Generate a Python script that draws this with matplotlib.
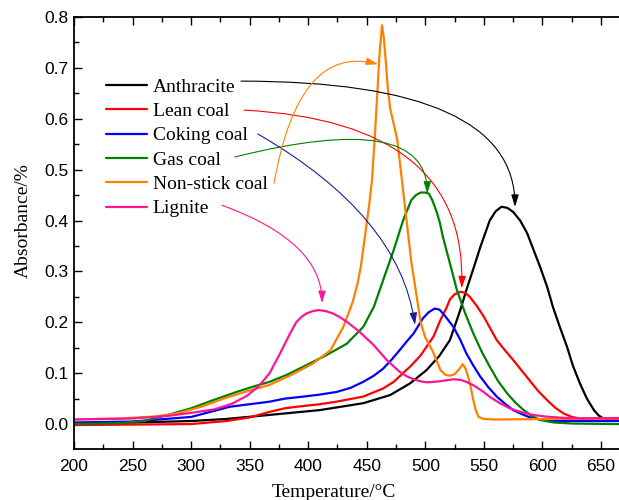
import matplotlib
matplotlib.use("Agg")
import matplotlib.pyplot as plt
from matplotlib.ticker import MultipleLocator, FormatStrFormatter

# ---------------- data ----------------
labels = ["Anthracite", "Lean coal", "Coking coal", "Gas coal", "Non-stick coal", "Lignite"]

anthracite_T = [200, 250, 300, 330, 367, 410, 447, 470, 487, 501, 512, 521, 524, 530, 535, 541, 547, 555, 560,
                565, 570, 575, 581, 587, 592, 598, 604, 609, 615, 621, 626, 632, 638, 644, 648, 652, 665]
anthracite_A = [0.002, 0.003, 0.006, 0.010, 0.018, 0.0275, 0.041, 0.057, 0.080, 0.106, 0.134, 0.165, 0.185,
                0.225, 0.263, 0.305, 0.348, 0.400, 0.418, 0.427, 0.425, 0.417, 0.400, 0.375, 0.345, 0.309, 0.270,
                0.230, 0.190, 0.152, 0.115, 0.080, 0.050, 0.0275, 0.017, 0.011, 0.011]

lean_T = [200, 250, 300, 330, 350, 367, 380, 390, 410, 424, 447, 464, 473, 481, 488, 496, 502, 507, 513, 518,
          521, 525, 530, 534, 538, 544, 550, 555, 561, 568, 575, 582, 589, 596, 604, 611, 618, 625, 632, 665]
lean_A = [-0.002, -0.001, 0.000, 0.006, 0.013, 0.024, 0.031, 0.034, 0.039, 0.044, 0.054, 0.070, 0.083, 0.100,
          0.115, 0.135, 0.155, 0.172, 0.205, 0.228, 0.245, 0.255, 0.260, 0.258, 0.250, 0.232, 0.211, 0.190,
          0.165, 0.145, 0.126, 0.106, 0.086, 0.066, 0.047, 0.032, 0.021, 0.014, 0.011, 0.011]

coking_T = [200, 250, 300, 333, 350, 367, 380, 396, 410, 424, 436, 447, 456, 464, 471, 478, 484, 490, 494, 498,
            503, 508, 512, 516, 521, 524, 530, 535, 541, 547, 554, 561, 568, 575, 584, 592, 602, 612, 665]
coking_A = [0.003, 0.005, 0.014, 0.034, 0.039, 0.044, 0.050, 0.054, 0.058, 0.063, 0.071, 0.083, 0.095, 0.109,
            0.126, 0.145, 0.162, 0.178, 0.193, 0.208, 0.220, 0.227, 0.225, 0.215, 0.200, 0.191, 0.165, 0.139,
            0.115, 0.093, 0.072, 0.054, 0.040, 0.0275, 0.018, 0.011, 0.008, 0.006, 0.006]

gas_T = [200, 240, 260, 280, 300, 320, 340, 355, 367, 382, 396, 416, 433, 447, 456, 464, 473, 481, 488, 492, 496,
         500, 503, 506, 510, 512.5, 515, 521, 527, 534, 541, 548, 555, 562, 570, 577, 584, 591, 598, 610, 626, 665]
gas_A = [0.000, 0.002, 0.006, 0.018, 0.031, 0.048, 0.064, 0.075, 0.083, 0.097, 0.113, 0.136, 0.158, 0.191, 0.230,
         0.283, 0.342, 0.400, 0.440, 0.450, 0.455, 0.455, 0.453, 0.440, 0.415, 0.395, 0.368, 0.316, 0.263, 0.218,
         0.178, 0.143, 0.113, 0.085, 0.060, 0.042, 0.0275, 0.016, 0.008, 0.003, 0.001, 0.000]

nonstick_T = [200, 240, 270, 290, 310, 330, 350, 367, 385, 404, 419, 430, 438, 442, 445, 448.5, 452, 454.5, 457,
              459, 461, 463, 464.5, 466, 468, 470, 473, 476, 480, 484, 488, 492, 496, 500, 506, 513, 517, 521,
              525, 529, 532, 534.5, 537, 539, 541, 543, 545.5, 550, 558, 665]
nonstick_A = [0.009, 0.011, 0.015, 0.022, 0.035, 0.052, 0.066, 0.077, 0.096, 0.119, 0.145, 0.191, 0.240, 0.275,
              0.310, 0.370, 0.430, 0.480, 0.570, 0.650, 0.730, 0.784, 0.760, 0.720, 0.660, 0.620, 0.590, 0.560,
              0.480, 0.400, 0.320, 0.260, 0.200, 0.170, 0.145, 0.106, 0.097, 0.095, 0.098, 0.108, 0.118, 0.108,
              0.090, 0.070, 0.047, 0.028, 0.014, 0.010, 0.009, 0.011]

lignite_T = [200, 250, 280, 300, 320, 335, 348, 358, 367, 376, 384.5, 390, 395, 399, 404, 409, 415, 421.5, 427,
             433, 444, 456, 467, 478, 484, 490, 496, 501, 508, 515, 524, 530, 535, 542, 549.5, 556, 564, 572, 581,
             592, 604, 620, 632, 665]
lignite_A = [0.009, 0.011, 0.016, 0.022, 0.029, 0.040, 0.056, 0.075, 0.100, 0.139, 0.178, 0.201, 0.212, 0.218,
             0.222, 0.224, 0.222, 0.217, 0.210, 0.201, 0.181, 0.155, 0.126, 0.103, 0.094, 0.088, 0.084, 0.082,
             0.083, 0.085, 0.088, 0.087, 0.083, 0.075, 0.0635, 0.052, 0.0406, 0.031, 0.024, 0.018, 0.0144, 0.012,
             0.011, 0.012]

series_T = [anthracite_T, lean_T, coking_T, gas_T, nonstick_T, lignite_T]
series_A = [anthracite_A, lean_A, coking_A, gas_A, nonstick_A, lignite_A]
colors = ["#000000", "#ff0000", "#0000ff", "#008000", "#ff8000", "#ff1493"]
arrow_colors = ["#000000", "#ff0000", "#1c1c9c", "#008000", "#ff8000", "#ff1493"]

# ---------------- figure ----------------
fig = plt.figure(figsize=(6.19, 5.0), dpi=100)
ax = fig.add_axes([74 / 619, 51 / 500, 545 / 619, 432 / 500])

for T, A, c, lab in zip(series_T, series_A, colors, labels):
    ax.plot(T, A, color=c, lw=1.6, label=lab, solid_joinstyle="round", solid_capstyle="round")

ax.set_xlim(200, 665.4)
ax.set_ylim(-0.049, 0.8)
ax.xaxis.set_major_locator(MultipleLocator(50))
ax.xaxis.set_minor_locator(MultipleLocator(25))
ax.yaxis.set_major_locator(MultipleLocator(0.1))
ax.yaxis.set_minor_locator(MultipleLocator(0.05))
ax.yaxis.set_major_formatter(FormatStrFormatter("%.1f"))

sans = "Liberation Sans"
serif = "Liberation Serif"
ax.tick_params(axis="both", which="major", direction="in", length=6, width=1.0, labelsize=12.5, top=True)
ax.tick_params(axis="both", which="minor", direction="in", length=3.5, width=1.0, top=True)
ax.tick_params(axis="x", which="major", pad=7)
ax.tick_params(axis="y", which="major", pad=4)
for lbl in ax.get_xticklabels() + ax.get_yticklabels():
    lbl.set_fontfamily(sans)
ax.spines["right"].set_visible(False)
for s in ["left", "bottom", "top"]:
    ax.spines[s].set_linewidth(1.3)

ax.set_xlabel("Temperature/°C", fontfamily=serif, fontsize=14)
ax.set_ylabel("Absorbance/%", fontfamily=serif, fontsize=14)
ax.xaxis.set_label_coords((334 - 74) / 545, -0.081)
ax.yaxis.set_label_coords(-0.077, 0.528)

leg = ax.legend(loc="upper left", bbox_to_anchor=(0.034, 0.89), frameon=False,
                prop={"family": serif, "size": 14}, handlelength=2.1, handletextpad=0.3,
                labelspacing=0.345, borderpad=0.2)

# ---------------- curved annotation arrows ----------------
starts = [(342.6, 0.674), (345.2, 0.617), (357.1, 0.570), (337.5, 0.525), (370.8, 0.473), (326.4, 0.430)]
ends = [(576.6, 0.427), (531.1, 0.267), (491.2, 0.195), (501.7, 0.453), (459.6, 0.707), (411.8, 0.238)]
styles = ["angle3,angleA=0,angleB=90", "angle3,angleA=-3,angleB=88", "angle3,angleA=-30,angleB=-82",
          "angle3,angleA=14,angleB=90", "angle3,angleA=80,angleB=-15", "angle3,angleA=-20,angleB=90"]
for (s, e, st, c) in zip(starts, ends, styles, arrow_colors):
    ax.annotate("", xy=e, xytext=s,
                arrowprops=dict(arrowstyle="-|>,head_length=0.8,head_width=0.25", color=c, lw=0.8,
                                connectionstyle=st, shrinkA=0, shrinkB=0, mutation_scale=9))

fig.savefig("out.png", dpi=100)
